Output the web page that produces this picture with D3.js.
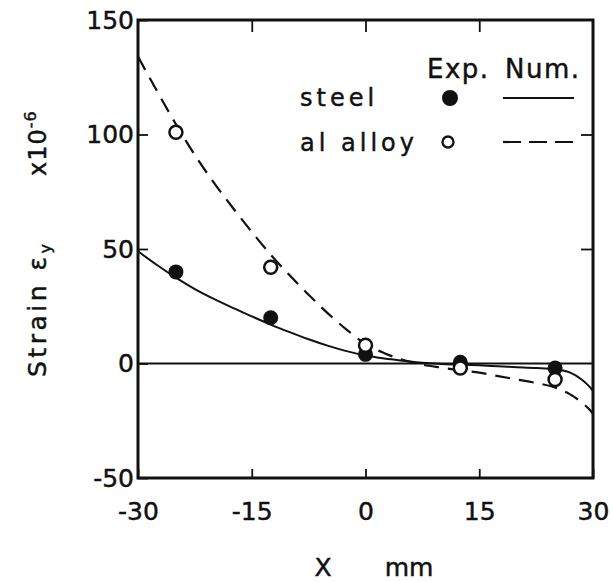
<!DOCTYPE html>
<html>
<head>
<meta charset="utf-8">
<script src="https://cdn.jsdelivr.net/npm/d3@7"></script>
<style>
  body { margin: 0; background: #fff; }
  text { font-family: "DejaVu Sans", sans-serif; fill: #111; stroke: #111; stroke-width: 0.45px; }
</style>
</head>
<body>
<div id="chart"></div>
<script>
// tick values
var xTicks = [-30, -15, 0, 15, 30];
var yTicks = [-50, 0, 50, 100, 150];

// experimental points
var expX = [-25, -12.5, 0, 12.5, 25];
var steelExp = [40, 20, 4, 0.5, -2];
var alExp = [101, 42, 8, -2, -7];

// numerical curves
var numX = [-30, -27.5, -25, -22.5, -20, -17.5, -15, -12.5, -10, -7.5, -5, -2.5, 0,
            2.5, 5, 7.5, 10, 12.5, 15, 17.5, 20, 22.5, 25, 27, 28.5, 29.5, 30];
var steelNum = [49, 43, 37.5, 32.5, 28.2, 24.3, 20.6, 17, 13.7, 10.6, 7.8, 5.4, 3.5,
                2.2, 1.2, 0.3, -0.2, -0.5, -0.8, -1.2, -1.6, -2, -2.6, -4, -7, -10, -12];
var alNum = [134, 119, 104.5, 91, 79, 68, 57.5, 47.5, 38.5, 30, 22, 14.8, 8.5,
             4.5, 1.5, -0.5, -1.8, -3, -4, -5.5, -7, -8.5, -10.5, -13.5, -17, -20, -22];

var W = 613, H = 582;
var svg = d3.select("#chart").append("svg")
    .attr("width", W).attr("height", H)
    .style("background", "#fff");

var x = d3.scaleLinear().domain([-30, 30]).range([138, 593]);
var y = d3.scaleLinear().domain([-50, 150]).range([478, 20]);

var fmt = function(d){ return d < 0 ? "-" + (-d) : d; };

// zero line
svg.append("line")
    .attr("x1", x(-30)).attr("x2", x(30))
    .attr("y1", y(0)).attr("y2", y(0))
    .attr("stroke", "#111").attr("stroke-width", 2);

// axes with inward ticks
function styleAxis(g) {
  g.select(".domain").remove();
  g.selectAll(".tick line").attr("stroke", "#111").attr("stroke-width", 1.8);
  g.selectAll(".tick text").style("font-size", "25px").attr("fill", "#111");
}

svg.append("g")
    .attr("transform", "translate(0," + y(-50) + ")")
    .call(d3.axisBottom(x).tickValues(xTicks).tickSize(-9).tickPadding(24).tickFormat(fmt))
    .call(styleAxis);

svg.append("g")
    .attr("transform", "translate(0," + y(150) + ")")
    .call(d3.axisTop(x).tickValues([-15, 0, 15]).tickSize(-12).tickFormat(""))
    .call(styleAxis);

svg.append("g")
    .attr("transform", "translate(" + x(-30) + ",0)")
    .call(d3.axisLeft(y).tickValues(yTicks).tickSize(-10).tickPadding(4).tickFormat(fmt))
    .call(styleAxis);

svg.append("g")
    .attr("transform", "translate(" + x(30) + ",0)")
    .call(d3.axisRight(y).tickValues([50, 100]).tickSize(-12).tickFormat(""))
    .call(styleAxis);

// frame
svg.append("rect")
    .attr("x", x(-30)).attr("y", y(150))
    .attr("width", x(30) - x(-30)).attr("height", y(-50) - y(150))
    .attr("fill", "none").attr("stroke", "#111").attr("stroke-width", 3);

// numerical curves
var line = d3.line()
    .x(function(d){ return x(d[0]); })
    .y(function(d){ return y(d[1]); })
    .curve(d3.curveMonotoneX);

svg.append("path")
    .datum(numX.map(function(v, i){ return [v, steelNum[i]]; }))
    .attr("d", line)
    .attr("fill", "none").attr("stroke", "#111").attr("stroke-width", 2);

svg.append("path")
    .datum(numX.map(function(v, i){ return [v, alNum[i]]; }))
    .attr("d", line)
    .attr("fill", "none").attr("stroke", "#111").attr("stroke-width", 2.2)
    .attr("stroke-dasharray", "15,9");

// experimental points
svg.selectAll(".steel")
    .data(expX.map(function(v, i){ return [v, steelExp[i]]; }))
    .enter().append("circle")
    .attr("cx", function(d){ return x(d[0]); })
    .attr("cy", function(d){ return y(d[1]); })
    .attr("r", 7.5).attr("fill", "#111");

svg.selectAll(".al")
    .data(expX.map(function(v, i){ return [v, alExp[i]]; }))
    .enter().append("circle")
    .attr("cx", function(d){ return x(d[0]); })
    .attr("cy", function(d){ return y(d[1]); })
    .attr("r", 6.5).attr("fill", "#fff").attr("stroke", "#111").attr("stroke-width", 2.5);

// legend
var leg = svg.append("g").style("font-size", "26px");
leg.append("text").attr("x", 427).attr("y", 78).style("letter-spacing", "1.5px").text("Exp.");
leg.append("text").attr("x", 505).attr("y", 78).style("letter-spacing", "1.5px").text("Num.");
leg.append("text").attr("x", 300).attr("y", 106).style("font-size", "24px")
    .style("letter-spacing", "4px").text("steel");
leg.append("text").attr("x", 300).attr("y", 151).style("font-size", "24px")
    .style("letter-spacing", "4px").text("al alloy");
leg.append("circle").attr("cx", 450).attr("cy", 98).attr("r", 8).attr("fill", "#111");
leg.append("circle").attr("cx", 448).attr("cy", 142).attr("r", 5.5)
    .attr("fill", "#fff").attr("stroke", "#111").attr("stroke-width", 2.3);
leg.append("line").attr("x1", 503).attr("x2", 574).attr("y1", 98).attr("y2", 98)
    .attr("stroke", "#111").attr("stroke-width", 2);
leg.append("line").attr("x1", 503).attr("x2", 574).attr("y1", 142).attr("y2", 142)
    .attr("stroke", "#111").attr("stroke-width", 2.2).attr("stroke-dasharray", "18,8");

// axis titles
var yl = svg.append("text")
    .attr("transform", "translate(46,377) rotate(-90)")
    .style("font-size", "25px").style("letter-spacing", "3.5px");
yl.append("tspan").text("Strain \u03b5");
yl.append("tspan").attr("dy", 5).style("font-size", "16px").text("y");

var ys = svg.append("text")
    .attr("transform", "translate(46,176) rotate(-90)")
    .style("font-size", "24px").style("letter-spacing", "1px");
ys.append("tspan").text("x10");
ys.append("tspan").attr("dy", -10).style("font-size", "16px").text("-6");

svg.append("text").attr("x", 323).attr("y", 576)
    .attr("text-anchor", "middle").style("font-size", "25px").text("X");
svg.append("text").attr("x", 409).attr("y", 576)
    .attr("text-anchor", "middle").style("font-size", "25px").text("mm");
</script>
</body>
</html>
